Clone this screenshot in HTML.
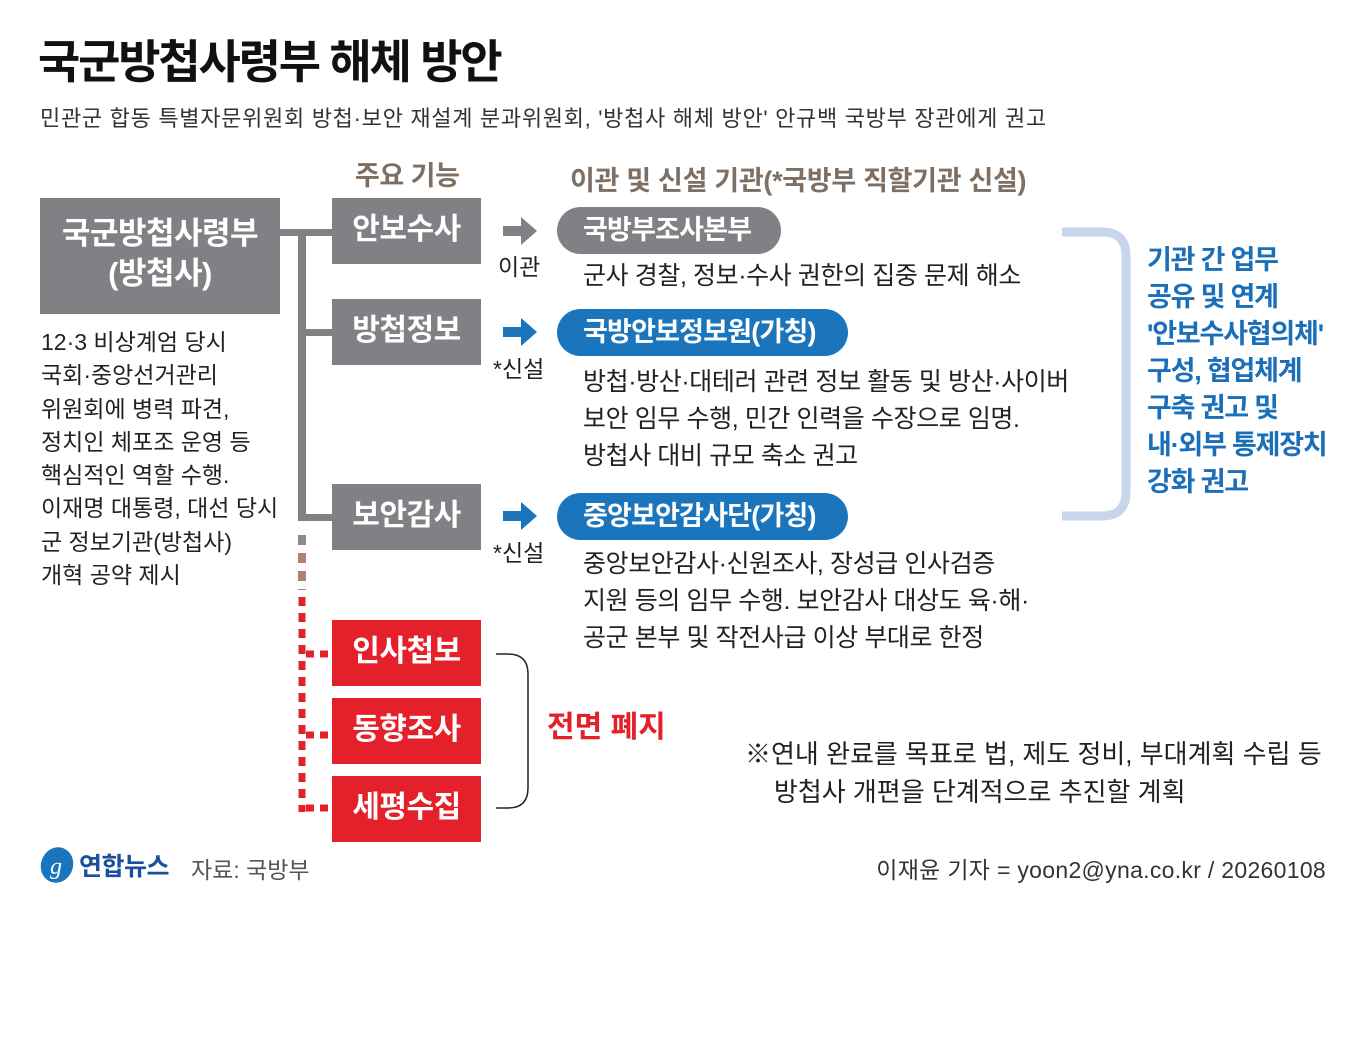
<!DOCTYPE html>
<html><head><meta charset="utf-8"><style>
body{margin:0;width:1364px;height:1047px;background:#fff;position:relative;overflow:hidden;font-family:"Liberation Sans","Noto Sans CJK KR",sans-serif;color:#222}
.a{position:absolute;white-space:nowrap}
.box{position:absolute;background:#808184;color:#fff;font-weight:bold;font-size:30px;text-align:center;letter-spacing:-0.5px}
.red{background:#e4202a}
.pill{position:absolute;height:47px;border-radius:24px;color:#fff;font-weight:bold;font-size:27px;line-height:46px;padding-left:26px;box-sizing:border-box;letter-spacing:-0.8px}
.d{font-size:25px;letter-spacing:-0.4px;line-height:37px;color:#222}
.ln{position:absolute;background:#808184}
</style></head><body>
<div class="a" style="left:38px;top:26px;font-size:46px;font-weight:bold;letter-spacing:-2.2px;color:#111">국군방첩사령부 해체 방안</div>
<div class="a" style="left:40px;top:101px;font-size:22px;letter-spacing:0.7px;color:#333">민관군 합동 특별자문위원회 방첩·보안 재설계 분과위원회, '방첩사 해체 방안' 안규백 국방부 장관에게 권고</div>
<div class="a" style="left:355px;top:154px;font-size:27px;font-weight:bold;color:#7d6f63;letter-spacing:-0.5px">주요 기능</div>
<div class="a" style="left:570px;top:159px;font-size:27px;font-weight:bold;color:#7d6f63;letter-spacing:-0.3px">이관 및 신설 기관(*국방부 직할기관 신설)</div>

<div class="box" style="left:40px;top:198px;width:240px;height:116px;font-size:31px;line-height:40px;padding-top:16px;box-sizing:border-box">국군방첩사령부<br>(방첩사)</div>
<div class="a" style="left:41px;top:326px;font-size:23px;line-height:33.3px;letter-spacing:0px;color:#222">12·3 비상계엄 당시<br>국회·중앙선거관리<br>위원회에 병력 파견,<br>정치인 체포조 운영 등<br>핵심적인 역할 수행.<br>이재명 대통령, 대선 당시<br>군 정보기관(방첩사)<br>개혁 공약 제시</div>

<div class="ln" style="left:280px;top:229px;width:52px;height:7px"></div>
<div class="ln" style="left:298px;top:229px;width:8px;height:292px"></div>
<div class="ln" style="left:298px;top:329px;width:34px;height:7px"></div>
<div class="ln" style="left:298px;top:514px;width:34px;height:7px"></div>
<svg class="a" style="left:0;top:0" width="1364" height="1047">
<line x1="302" y1="535" x2="302" y2="570" stroke="#8a8a8c" stroke-width="8" stroke-dasharray="10,8"/>
<line x1="302" y1="553" x2="302" y2="590" stroke="#b08070" stroke-width="8" stroke-dasharray="10,8"/>
<line x1="302" y1="597" x2="302" y2="812" stroke="#e4202a" stroke-width="7" stroke-dasharray="9,7"/>
<line x1="306" y1="654" x2="332" y2="654" stroke="#e4202a" stroke-width="7" stroke-dasharray="8,6"/>
<line x1="306" y1="735" x2="332" y2="735" stroke="#e4202a" stroke-width="7" stroke-dasharray="8,6"/>
<line x1="306" y1="808" x2="332" y2="808" stroke="#e4202a" stroke-width="7" stroke-dasharray="8,6"/>
<path d="M503 226h18v-9l16 14-16 14v-9h-18z" fill="#808184"/>
<path d="M503 327h18v-9l16 14-16 14v-9h-18z" fill="#1b75bc"/>
<path d="M503 511h18v-9l16 14-16 14v-9h-18z" fill="#1b75bc"/>
<path d="M496 654h12q20 0 20 20v114q0 20-20 20h-12" fill="none" stroke="#222" stroke-width="1.5"/>
<path d="M1062 232h40q24 0 24 24v236q0 24-24 24h-40" fill="none" stroke="#c9d5ea" stroke-width="9"/>
</svg>

<div class="box" style="left:332px;top:198px;width:149px;height:66px;line-height:64px">안보수사</div>
<div class="box" style="left:332px;top:299px;width:149px;height:66px;line-height:64px">방첩정보</div>
<div class="box" style="left:332px;top:484px;width:149px;height:66px;line-height:64px">보안감사</div>
<div class="box red" style="left:332px;top:620px;width:149px;height:66px;line-height:64px">인사첩보</div>
<div class="box red" style="left:332px;top:698px;width:149px;height:66px;line-height:64px">동향조사</div>
<div class="box red" style="left:332px;top:776px;width:149px;height:66px;line-height:64px">세평수집</div>

<div class="a" style="left:498px;top:248px;font-size:23px">이관</div>
<div class="a" style="left:493px;top:350px;font-size:23px">*신설</div>
<div class="a" style="left:493px;top:534px;font-size:23px">*신설</div>

<div class="pill" style="left:557px;top:207px;width:224px;background:#808184">국방부조사본부</div>
<div class="pill" style="left:557px;top:309px;width:291px;background:#1b75bc">국방안보정보원(가칭)</div>
<div class="pill" style="left:557px;top:493px;width:291px;background:#1b75bc">중앙보안감사단(가칭)</div>

<div class="a d" style="left:583px;top:258px">군사 경찰, 정보·수사 권한의 집중 문제 해소</div>
<div class="a d" style="left:583px;top:364px">방첩·방산·대테러 관련 정보 활동 및 방산·사이버<br>보안 임무 수행, 민간 인력을 수장으로 임명.<br>방첩사 대비 규모 축소 권고</div>
<div class="a d" style="left:583px;top:546px">중앙보안감사·신원조사, 장성급 인사검증<br>지원 등의 임무 수행. 보안감사 대상도 육·해·<br>공군 본부 및 작전사급 이상 부대로 한정</div>

<div class="a" style="left:1147px;top:242px;font-size:27px;font-weight:bold;line-height:37px;color:#1b6fb8;letter-spacing:-1.2px">기관 간 업무<br>공유 및 연계<br>'안보수사협의체'<br>구성, 협업체계<br>구축 권고 및<br>내·외부 통제장치<br>강화 권고</div>

<div class="a" style="left:547px;top:702px;font-size:30px;font-weight:bold;color:#e4202a;letter-spacing:0px">전면 폐지</div>
<div class="a" style="left:745px;top:735px;font-size:26px;letter-spacing:0px;line-height:38px">※연내 완료를 목표로 법, 제도 정비, 부대계획 수립 등<br>&nbsp;&nbsp;&nbsp;&nbsp;방첩사 개편을 단계적으로 추진할 계획</div>

<svg class="a" style="left:38px;top:846px" width="40" height="38"><ellipse cx="19" cy="19" rx="16" ry="18" fill="#1b75bc" transform="rotate(20 19 19)"/><text x="12" y="28" font-size="24" font-style="italic" fill="#fff" font-family="Liberation Serif">g</text></svg>
<div class="a" style="left:79px;top:847px;font-size:25px;font-weight:bold;color:#1b4f9c;letter-spacing:-0.5px">연합뉴스</div>
<div class="a" style="left:191px;top:851px;font-size:23px;color:#555;letter-spacing:0px">자료: 국방부</div>
<div class="a" style="right:38px;top:851px;font-size:23px;color:#333;letter-spacing:0.3px">이재윤 기자 = yoon2@yna.co.kr / 20260108</div>
</body></html>
